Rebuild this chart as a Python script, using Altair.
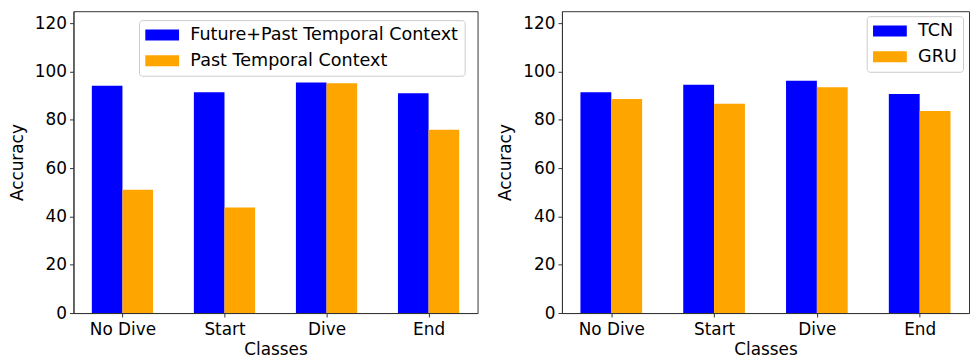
import altair as alt
import pandas as pd

# Accuracy per dive phase, two model comparisons
classes = ["No Dive", "Start", "Dive", "End"]

context_series = ["Future+Past Temporal Context", "Past Temporal Context"]
future_past = [94.1, 91.4, 95.5, 91.0]
past_only = [51.1, 43.7, 95.2, 75.9]

model_series = ["TCN", "GRU"]
tcn = [91.4, 94.5, 96.2, 90.7]
gru = [88.6, 86.7, 93.5, 83.7]

y_ticks = [0, 20, 40, 60, 80, 100, 120]
colors = ["#0000ff", "#ffa500"]

BAR_W = 0.3  # bar width in category units, bars of a pair touch
FONT = "DejaVu Sans"

label_expr = "[" + ",".join("'%s'" % c for c in classes) + "][datum.value]"


def to_frame(series_names, values_a, values_b):
    rows = []
    for k, (name, vals) in enumerate(zip(series_names, [values_a, values_b])):
        for i, (c, v) in enumerate(zip(classes, vals)):
            left_edge = i - BAR_W + k * BAR_W
            rows.append(
                {"cls": c, "series": name, "acc": v,
                 "x0": left_edge, "x1": left_edge + BAR_W}
            )
    return pd.DataFrame(rows)


def panel(df, series_names, width, legend_x, legend_y):
    legend = alt.Legend(
        title=None,
        orient="none",
        legendX=legend_x,
        legendY=legend_y,
        symbolType="M-2,-0.65H2V0.65H-2Z",
        symbolSize=289,
        symbolOffset=8.5,
        symbolStrokeWidth=0,
        labelOffset=19.5,
        labelFontSize=17.7,
        labelFont=FONT,
        labelColor="#000",
        labelLimit=1000,
        rowPadding=7,
        padding=6,
        strokeColor="#cccccc",
        fillColor="#ffffff",
        cornerRadius=3,
    )
    return (
        alt.Chart(df)
        .mark_bar()
        .encode(
            x=alt.X(
                "x0:Q",
                title="Classes",
                scale=alt.Scale(domain=[-0.48, 3.48], nice=False, zero=False),
                axis=alt.Axis(
                    values=list(range(len(classes))),
                    labelExpr=label_expr,
                    labelAngle=0,
                    grid=False,
                    labelPadding=5,
                ),
            ),
            x2="x1:Q",
            y=alt.Y(
                "acc:Q",
                title="Accuracy",
                scale=alt.Scale(domain=[0, 125], nice=False),
                axis=alt.Axis(values=y_ticks, grid=False),
            ),
            y2=alt.datum(0),
            color=alt.Color(
                "series:N",
                sort=series_names,
                scale=alt.Scale(domain=series_names, range=colors),
                legend=legend,
            ),
        )
        .properties(width=width, height=304)
    )


left = panel(to_frame(context_series, future_past, past_only), context_series, 407, 66, 9)
right = panel(to_frame(model_series, tcn, gru), model_series, 410, 307, 5)

chart = (
    alt.hconcat(left, right, spacing=18)
    .resolve_scale(color="independent")
    .resolve_legend(color="independent")
    .properties(padding={"left": 8, "top": 9, "right": 0, "bottom": 0})
    .configure_view(stroke="#333333", strokeWidth=1)
    .configure_axis(
        labelFont=FONT,
        titleFont=FONT,
        labelFontSize=17,
        titleFontSize=17,
        labelColor="#000",
        titleColor="#000",
        titleFontWeight="normal",
        domainColor="#333333",
        tickColor="#333333",
        tickSize=4,
        labelPadding=3,
        titlePadding=4,
    )
    .configure_axisY(titlePadding=8)
)

chart.save("out.html", embed_options={"renderer": "svg", "actions": False})
